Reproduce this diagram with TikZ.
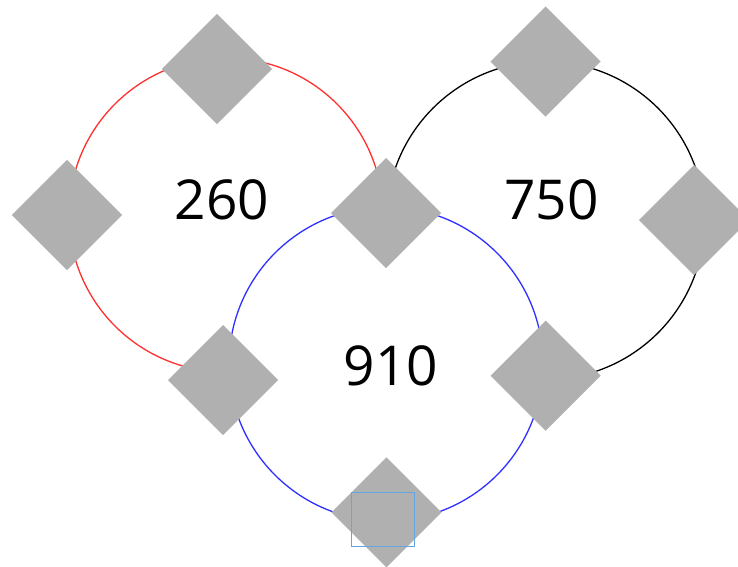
\documentclass[tikz,border=0pt]{standalone}
\usepackage{fontspec}
\setmainfont{Open Sans}
\begin{document}
\begin{tikzpicture}[x=1pt,y=-1pt,
  ring/.style={line width=1.3pt,fill=white},
  gem/.style={shape=rectangle,fill=gemgray,draw=none,minimum width=77.8pt,minimum height=77.8pt,inner sep=0pt,rotate=45},
  num/.style={font=\fontsize{55}{60}\selectfont,inner sep=0pt,text=black},
  sel/.style={draw=selblue,line width=1pt,fill=none}]
\definecolor{gemgray}{RGB}{176,176,176}
\definecolor{ringred}{RGB}{255,48,48}
\definecolor{ringblue}{RGB}{48,48,255}
\definecolor{selblue}{RGB}{100,165,230}
\useasboundingbox (0,0) rectangle (738,566);
\fill[white] (0,0) rectangle (738,566);
% rings
\draw[ring,draw=ringred] (226,215) circle (157);
\draw[ring,draw=black] (545.5,220.5) circle (159);
\draw[ring,draw=ringblue] (386,364) circle (157);
% labels
\node[num] (t260) at (222,200) {260};
\node[num] (t750) at (551.5,200) {750};
\node[num] (t910) at (391,366) {910};
% diamonds
\node[gem] (d1) at (217,69) {};
\node[gem] (d2) at (67,215) {};
\node[gem] (d3) at (386,213) {};
\node[gem] (d4) at (545.5,61.5) {};
\node[gem] (d5) at (694,220) {};
\node[gem] (d6) at (223,380) {};
\node[gem] (d7) at (545.7,375.7) {};
\node[gem] (d8) at (386.5,512.3) {};
% selection box
\draw[sel] (351.7,492.3) rectangle (414.3,546);
\end{tikzpicture}
\end{document}
